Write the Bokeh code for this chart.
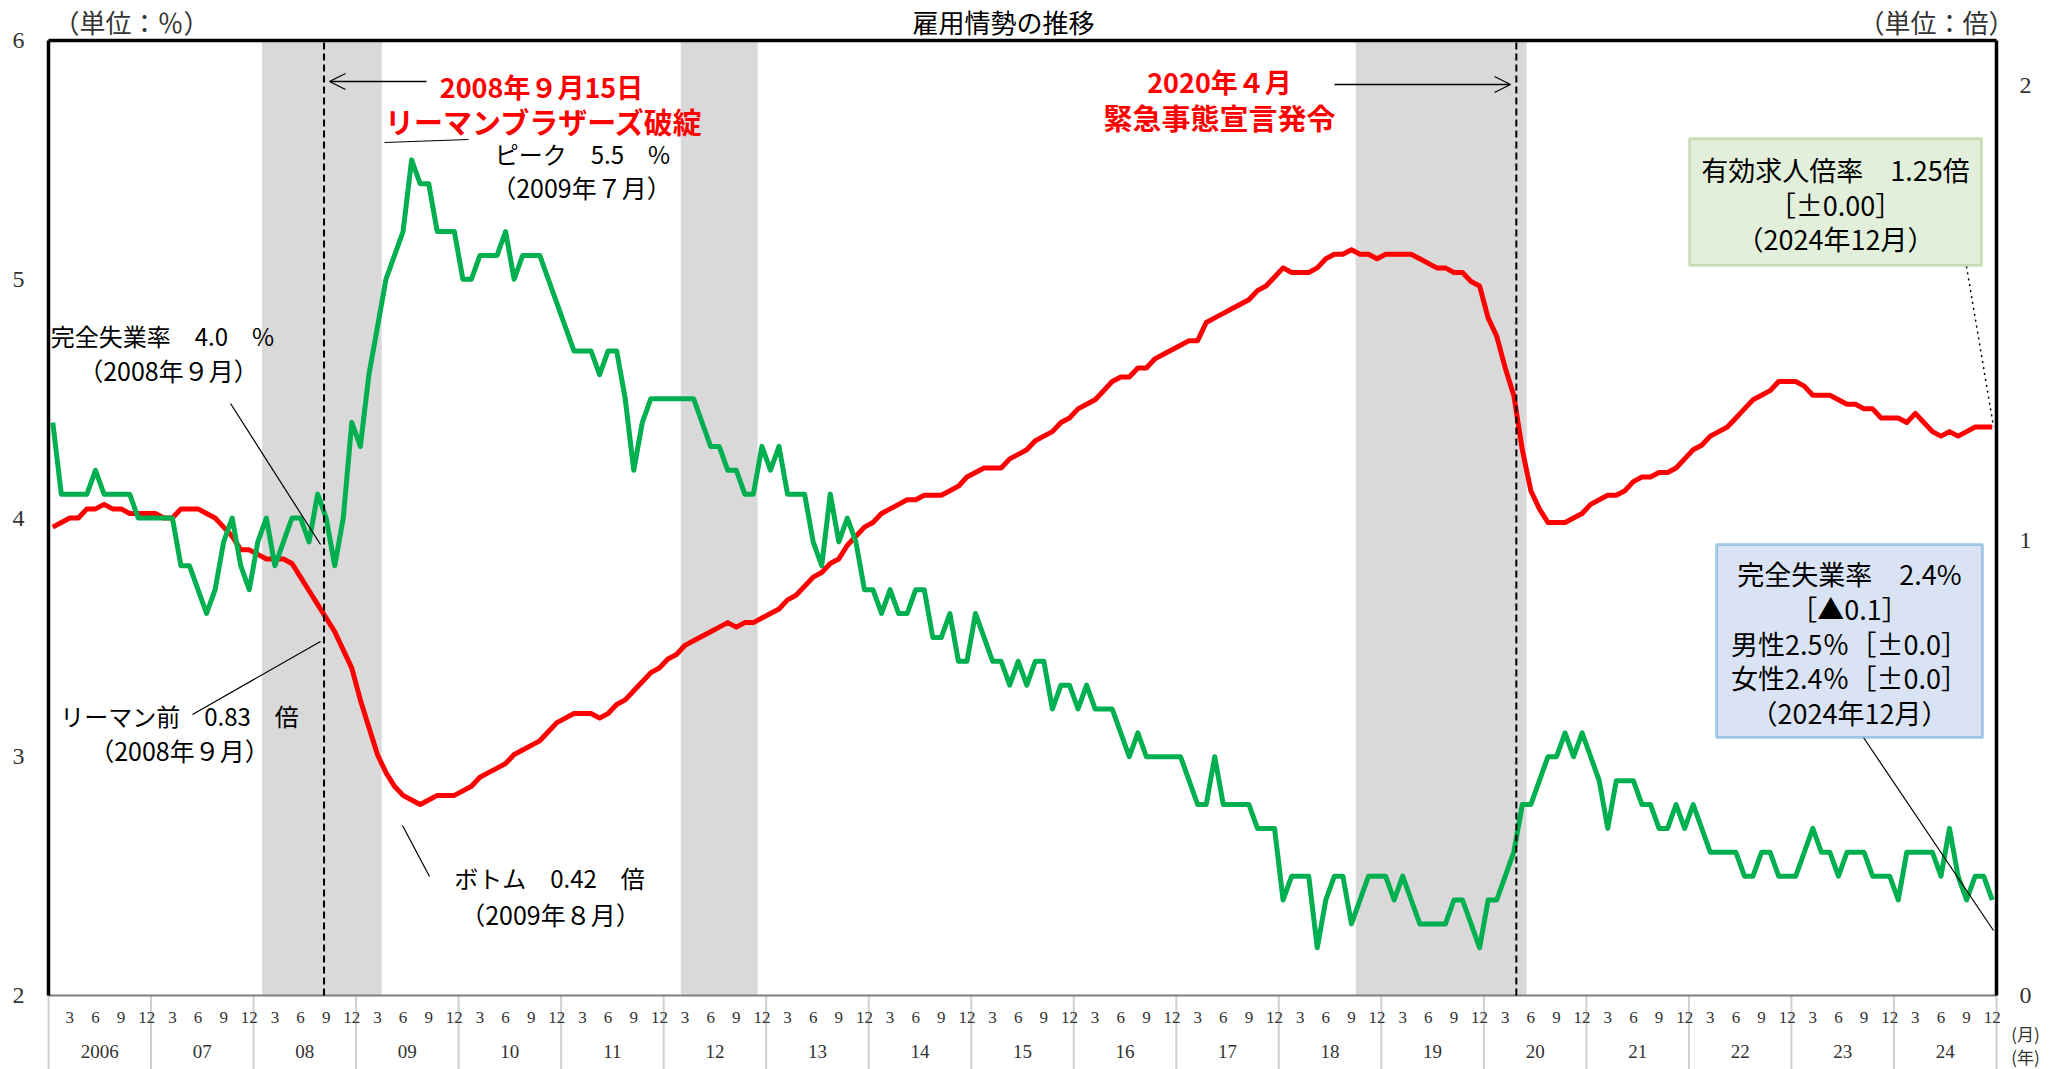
from bokeh.plotting import figure
from bokeh.models import Range1d, Label, Arrow, OpenHead, BoxAnnotation
from bokeh.core.properties import value
from bokeh.embed import file_html
from bokeh.resources import INLINE

# ---------------- data ----------------
years = list(range(2006, 2025))
year_labels = ["2006", "07", "08", "09", "10", "11", "12", "13", "14", "15",
               "16", "17", "18", "19", "20", "21", "22", "23", "24"]
month_labels = [3, 6, 9, 12]
left_ticks = [2, 3, 4, 5, 6]       # 完全失業率 (%)
right_ticks = [0, 1, 2]            # 有効求人倍率 (倍)

# 完全失業率 (%), monthly Jan 2006 - Dec 2024 (left axis)
unemployment = [
    4.4, 4.1, 4.1, 4.1, 4.1, 4.2, 4.1, 4.1, 4.1, 4.1, 4.0, 4.0,   # 2006
    4.0, 4.0, 4.0, 3.8, 3.8, 3.7, 3.6, 3.7, 3.9, 4.0, 3.8, 3.7,   # 2007
    3.9, 4.0, 3.8, 3.9, 4.0, 4.0, 3.9, 4.1, 4.0, 3.8, 4.0, 4.4,   # 2008
    4.3, 4.6, 4.8, 5.0, 5.1, 5.2, 5.5, 5.4, 5.4, 5.2, 5.2, 5.2,   # 2009
    5.0, 5.0, 5.1, 5.1, 5.1, 5.2, 5.0, 5.1, 5.1, 5.1, 5.0, 4.9,   # 2010
    4.8, 4.7, 4.7, 4.7, 4.6, 4.7, 4.7, 4.5, 4.2, 4.4, 4.5, 4.5,   # 2011
    4.5, 4.5, 4.5, 4.5, 4.4, 4.3, 4.3, 4.2, 4.2, 4.1, 4.1, 4.3,   # 2012
    4.2, 4.3, 4.1, 4.1, 4.1, 3.9, 3.8, 4.1, 3.9, 4.0, 3.9, 3.7,   # 2013
    3.7, 3.6, 3.7, 3.6, 3.6, 3.7, 3.7, 3.5, 3.5, 3.6, 3.4, 3.4,   # 2014
    3.6, 3.5, 3.4, 3.4, 3.3, 3.4, 3.3, 3.4, 3.4, 3.2, 3.3, 3.3,   # 2015
    3.2, 3.3, 3.2, 3.2, 3.2, 3.1, 3.0, 3.1, 3.0, 3.0, 3.0, 3.0,   # 2016
    3.0, 2.9, 2.8, 2.8, 3.0, 2.8, 2.8, 2.8, 2.8, 2.7, 2.7, 2.7,   # 2017
    2.4, 2.5, 2.5, 2.5, 2.2, 2.4, 2.5, 2.5, 2.3, 2.4, 2.5, 2.5,   # 2018
    2.5, 2.4, 2.5, 2.4, 2.3, 2.3, 2.3, 2.3, 2.4, 2.4, 2.3, 2.2,   # 2019
    2.4, 2.4, 2.5, 2.6, 2.8, 2.8, 2.9, 3.0, 3.0, 3.1, 3.0, 3.1,   # 2020
    3.0, 2.9, 2.7, 2.9, 2.9, 2.9, 2.8, 2.8, 2.7, 2.7, 2.8, 2.7,   # 2021
    2.8, 2.7, 2.6, 2.6, 2.6, 2.6, 2.5, 2.5, 2.6, 2.6, 2.5, 2.5,   # 2022
    2.5, 2.6, 2.7, 2.6, 2.6, 2.5, 2.6, 2.6, 2.6, 2.5, 2.5, 2.5,   # 2023
    2.4, 2.6, 2.6, 2.6, 2.6, 2.5, 2.7, 2.5, 2.4, 2.5, 2.5, 2.4,   # 2024
]

# 有効求人倍率 (倍), monthly Jan 2006 - Dec 2024 (right axis)
jobs_ratio = [
    1.03, 1.04, 1.05, 1.05, 1.07, 1.07, 1.08, 1.07, 1.07, 1.06, 1.06, 1.06,  # 2006
    1.06, 1.05, 1.05, 1.07, 1.07, 1.07, 1.06, 1.05, 1.03, 1.01, 0.98, 0.98,  # 2007
    0.97, 0.96, 0.96, 0.96, 0.95, 0.92, 0.89, 0.86, 0.83, 0.80, 0.76, 0.72,  # 2008
    0.65, 0.59, 0.53, 0.49, 0.46, 0.44, 0.43, 0.42, 0.43, 0.44, 0.44, 0.44,  # 2009
    0.45, 0.46, 0.48, 0.49, 0.50, 0.51, 0.53, 0.54, 0.55, 0.56, 0.58, 0.60,  # 2010
    0.61, 0.62, 0.62, 0.62, 0.61, 0.62, 0.64, 0.65, 0.67, 0.69, 0.71, 0.72,  # 2011
    0.74, 0.75, 0.77, 0.78, 0.79, 0.80, 0.81, 0.82, 0.81, 0.82, 0.82, 0.83,  # 2012
    0.84, 0.85, 0.87, 0.88, 0.90, 0.92, 0.93, 0.95, 0.96, 0.99, 1.01, 1.03,  # 2013
    1.04, 1.06, 1.07, 1.08, 1.09, 1.09, 1.10, 1.10, 1.10, 1.11, 1.12, 1.14,  # 2014
    1.15, 1.16, 1.16, 1.16, 1.18, 1.19, 1.20, 1.22, 1.23, 1.24, 1.26, 1.27,  # 2015
    1.29, 1.30, 1.31, 1.33, 1.35, 1.36, 1.36, 1.38, 1.38, 1.40, 1.41, 1.42,  # 2016
    1.43, 1.44, 1.44, 1.48, 1.49, 1.50, 1.51, 1.52, 1.53, 1.55, 1.56, 1.58,  # 2017
    1.60, 1.59, 1.59, 1.59, 1.60, 1.62, 1.63, 1.63, 1.64, 1.63, 1.63, 1.62,  # 2018
    1.63, 1.63, 1.63, 1.63, 1.62, 1.61, 1.60, 1.60, 1.59, 1.59, 1.57, 1.56,  # 2019
    1.49, 1.45, 1.38, 1.32, 1.20, 1.11, 1.07, 1.04, 1.04, 1.04, 1.05, 1.06,  # 2020
    1.08, 1.09, 1.10, 1.10, 1.11, 1.13, 1.14, 1.14, 1.15, 1.15, 1.16, 1.18,  # 2021
    1.20, 1.21, 1.23, 1.24, 1.25, 1.27, 1.29, 1.31, 1.32, 1.33, 1.35, 1.35,  # 2022
    1.35, 1.34, 1.32, 1.32, 1.32, 1.31, 1.30, 1.30, 1.29, 1.29, 1.27, 1.27,  # 2023
    1.27, 1.26, 1.28, 1.26, 1.24, 1.23, 1.24, 1.23, 1.24, 1.25, 1.25, 1.25,  # 2024
]

# shaded periods (景気後退期) and event months
recession_start = [(2008, 2), (2012, 3), (2018, 10)]
recession_end = [(2009, 3), (2012, 11), (2020, 5)]
event_lehman = (2008, 9)
event_covid = (2020, 4)


def midx(y, m):
    return (y - years[0]) * 12 + (m - 1)


n_months = len(years) * 12
xs = [i + 0.5 for i in range(len(unemployment))]

# ---------------- layout geometry (canvas px) ----------------
W, H = 2055, 1069
FL, FR, FT, FB = 48, 1996, 40, 995          # plot-area box
Y0, Y1 = left_ticks[0], left_ticks[-1]
R0, R1 = 0, 2.1


def ax(cx):
    return (cx - FL) / (FR - FL) * n_months


def ay(cy):
    return Y1 - (cy - FT) / (FB - FT) * (Y1 - Y0)


def ry(cy):
    return R1 - (cy - FT) / (FB - FT) * (R1 - R0)


p = figure(width=W, height=H, output_backend="svg", toolbar_location=None,
           x_range=Range1d(ax(0), ax(W)), y_range=Range1d(ay(H), ay(0)),
           x_axis_type=None, y_axis_type=None, min_border=0,
           background_fill_color="white", border_fill_color="white")
p.extra_y_ranges = {"ratio": Range1d(ry(H), ry(0))}
p.outline_line_color = None

AXIS_FONT = "Liberation Serif"
JP = "Noto Sans CJK JP"
TICK_COLOR = "#333333"

# ---------------- shaded periods ----------------
p.quad(left=[midx(*s) for s in recession_start],
       right=[midx(*e) + 1 for e in recession_end],
       bottom=Y0, top=Y1, fill_color="#D9D9D9", line_color=None)

# ---------------- axes (frame, ticks, labels) ----------------
year_bounds = [k * 12 for k in range(len(years) + 1)]
p.segment(x0=year_bounds, y0=[Y0] * len(year_bounds), x1=year_bounds,
          y1=[ay(H)] * len(year_bounds), line_color="#D0D0D0", line_width=2)
p.segment(x0=[0], y0=[Y0], x1=[n_months], y1=[Y0], line_color="#7F7F7F", line_width=2)
p.segment(x0=[0, n_months, 0], y0=[Y0, Y0, Y1], x1=[0, n_months, n_months],
          y1=[Y1, Y1, Y1], line_color="black", line_width=3.5)

month_pos, month_txt = [], []
for k, y in enumerate(years):
    for m in month_labels:
        month_pos.append(k * 12 + m - 0.5)
        month_txt.append(str(m))
p.text(x=month_pos, y=[ay(1017)] * len(month_pos), text=month_txt,
       text_align="center", text_baseline="middle", text_font=value(AXIS_FONT),
       text_font_size="17px", text_color=TICK_COLOR)

year_pos = [k * 12 + 6 for k in range(len(years))]
p.text(x=year_pos, y=[ay(1051)] * len(year_pos), text=year_labels,
       text_align="center", text_baseline="middle", text_font=value(AXIS_FONT),
       text_font_size="19px", text_color=TICK_COLOR)

p.text(x=[ax(24)] * len(left_ticks), y=left_ticks, text=[str(t) for t in left_ticks],
       text_align="right", text_baseline="middle", text_font=value(AXIS_FONT),
       text_font_size="24px", text_color=TICK_COLOR)
p.text(x=[ax(2019)] * len(right_ticks), y=right_ticks, y_range_name="ratio",
       text=[str(t) for t in right_ticks],
       text_align="left", text_baseline="middle", text_font=value(AXIS_FONT),
       text_font_size="24px", text_color=TICK_COLOR)

# ---------------- series ----------------
p.line(xs, jobs_ratio, y_range_name="ratio", line_color="#FF0000",
       line_width=5, line_join="round")
p.line(xs, unemployment, line_color="#00B050", line_width=5, line_join="round")

ev_x = [midx(*event_lehman) + 0.25, midx(*event_covid) + 0.8]
p.segment(x0=ev_x, y0=[Y0, Y0], x1=ev_x, y1=[Y1, Y1],
          line_color="black", line_width=2, line_dash="7 4")


# ---------------- annotations ----------------
def label(cx, cy, text, size, color="black", bold=False, font=JP, align="center"):
    p.add_layout(Label(x=ax(cx), y=ay(cy), text=text, text_align=align,
                       text_baseline="middle", text_font=font,
                       text_font_size=f"{size}px", text_color=color,
                       text_font_style="bold" if bold else "normal"))


def seg(c0, c1, dash="solid", width=1.2):
    p.segment(x0=[ax(c0[0])], y0=[ay(c0[1])], x1=[ax(c1[0])], y1=[ay(c1[1])],
              line_color="black", line_width=width, line_dash=dash)


# title and units
label(1003, 21, "雇用情勢の推移", 26)
label(131, 21, "（単位：％）", 26, color="#333333")
label(1936, 21, "（単位：倍）", 26, color="#333333")
label(2025, 1033, "(月)", 17, color="#333333")
label(2025, 1056, "(年)", 17, color="#333333")

# event labels
label(541, 86, "2008年９月15日", 27, color="#FF0000", bold=True)
label(544, 120, "リーマンブラザーズ破綻", 29, color="#FF0000", bold=True)
label(1219, 81, "2020年４月", 27, color="#FF0000", bold=True)
label(1219, 116, "緊急事態宣言発令", 29, color="#FF0000", bold=True)

p.add_layout(Arrow(end=OpenHead(size=16, line_width=1.3, line_color="black"),
                   x_start=ax(426), y_start=ay(81), x_end=ax(329), y_end=ay(81),
                   line_color="black", line_width=1.3))
p.add_layout(Arrow(end=OpenHead(size=16, line_width=1.3, line_color="black"),
                   x_start=ax(1334), y_start=ay(84), x_end=ax(1510), y_end=ay(84),
                   line_color="black", line_width=1.3))

# peak / trough notes
label(582, 153, "ピーク　5.5　%", 24)
label(581, 186, "（2009年７月）", 25)
seg((384, 142), (468, 139))

label(162, 335, "完全失業率　4.0　%", 24)
label(168, 369, "（2008年９月）", 25)
seg((230, 403), (320, 544))

label(179, 715, "リーマン前　0.83　倍", 24)
label(179, 749, "（2008年９月）", 25)
seg((192, 714), (320, 641))

label(549, 877, "ボトム　0.42　倍", 24)
label(550, 913, "（2009年８月）", 25)
seg((402, 825), (429, 876))

# latest value boxes
seg((1966, 266), (1993, 426), dash="dotted", width=1.5)
p.add_layout(BoxAnnotation(left=ax(1689), right=ax(1981), top=ay(138), bottom=ay(265),
                           fill_color="#E2EFDA", fill_alpha=1.0,
                           line_color="#70AD47", line_width=3))
label(1835, 169, "有効求人倍率　1.25倍", 27)
label(1835, 204, "［±0.00］", 27)
label(1835, 238, "（2024年12月）", 27)

seg((1863, 737), (1993, 930))
p.add_layout(BoxAnnotation(left=ax(1716), right=ax(1982), top=ay(544), bottom=ay(737),
                           fill_color="#DAE3F3", fill_alpha=1.0,
                           line_color="#0070C0", line_width=3))
label(1849, 573, "完全失業率　2.4%", 27)
label(1849, 608, "［▲0.1］", 27)
label(1849, 643, "男性2.5％［±0.0］", 27)
label(1849, 677, "女性2.4％［±0.0］", 27)
label(1849, 712, "（2024年12月）", 27)

open("out.html", "w").write(file_html(p, INLINE))
